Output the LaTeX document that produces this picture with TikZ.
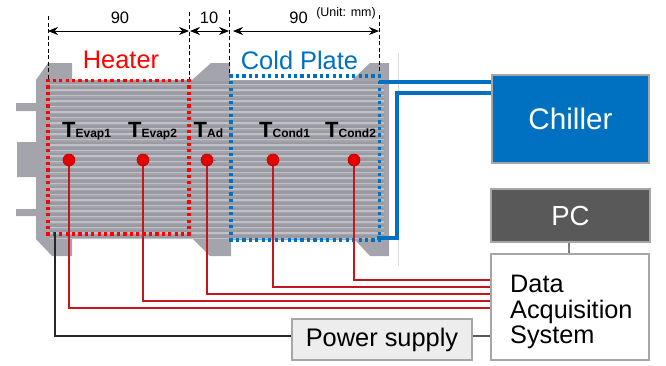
\documentclass[tikz,border=0pt]{standalone}
\usepackage{fontspec}
\setmainfont{Liberation Sans}
\usetikzlibrary{arrows.meta}
\definecolor{cblue}{HTML}{0070C0}
\definecolor{plategray}{HTML}{A4A4AC}
\definecolor{finlight}{HTML}{C0C0C6}
\definecolor{findark}{HTML}{9A9AA2}
\definecolor{wirered}{HTML}{C4161C}
\definecolor{pcgray}{HTML}{595959}
\definecolor{boxedge}{HTML}{A6A6A6}
\tikzset{
  x=1pt,y=-1pt,
  dim/.style={black,line width=0.9pt,{Stealth[length=10pt,width=8pt]}-{Stealth[length=10pt,width=8pt]}},
  guide/.style={black,line width=0.7pt,dash pattern=on 4pt off 2.5pt},
  wire/.style={wirered,line width=1.3pt},
  sensor/.style={circle,fill=red!90!black,draw=red!75!black,line width=0.6pt,minimum size=12pt,inner sep=0pt},
  tlabel/.style={anchor=base west,inner sep=0pt,font=\bfseries\fontsize{22}{22}\selectfont},
  zonedot/.style={rectangle,minimum size=3.2pt,inner sep=0pt,draw=none},
  pipe/.style={cblue,line width=4.6pt},
  bigtext/.style={font=\fontsize{25.4}{25}\selectfont,inner sep=0pt},
  dimtext/.style={font=\fontsize{16.5}{17}\selectfont,inner sep=0pt},
  box/.style={draw=boxedge,line width=1.2pt,inner sep=0pt},
}
\newcommand{\Tsub}[1]{T{\fontsize{12}{12}\selectfont #1}}
% dotted outline made of square dots: colour, x0, y0, x1, y1, nx, ny
\newcommand{\dotbox}[7]{%
  \foreach \i in {0,...,#6}{
    \fill[#1] ({#2+(#4-#2)*\i/#6-1.6},{#3-1.6}) rectangle ++(3.2,3.2);
    \fill[#1] ({#2+(#4-#2)*\i/#6-1.6},{#5-1.6}) rectangle ++(3.2,3.2);
  }
  \foreach \i in {0,...,#7}{
    \fill[#1] ({#2-1.6},{#3+(#5-#3)*\i/#7-1.6}) rectangle ++(3.2,3.2);
    \fill[#1] ({#4-1.6},{#3+(#5-#3)*\i/#7-1.6}) rectangle ++(3.2,3.2);
  }
}
\begin{document}
\begin{tikzpicture}
\useasboundingbox (0,0) rectangle (666,365);
% plate
\fill[plategray] (36,80) -- (48,63) -- (72,63) -- (72,80) -- (192,80) -- (211,63) -- (230,63) -- (230,80)
  -- (352,80) -- (370,63) -- (389,63) -- (389,256) -- (370,256) -- (355,240) -- (231,240) -- (231,256)
  -- (210,256) -- (193,239) -- (72,239) -- (72,256) -- (52,256) -- (36,239) -- (36,216) -- (16,216) -- (16,209)
  -- (36,209) -- (36,177) -- (17,177) -- (17,142) -- (36,142) -- (36,111) -- (16,111) -- (16,103) -- (36,103) -- cycle;
\foreach \k in {0,...,28}{
  \fill[findark] (50,{81+5.5*\k}) rectangle (384,{83.8+5.5*\k});
  \fill[finlight] (50,{83.8+5.5*\k}) rectangle (384,{85.2+5.5*\k});
}
\draw[gray!30,line width=0.8pt] (398,53) -- (398,266);
% dimension guides
\coordinate (g1t) at (48,16); \coordinate (g1b) at (48,80);
\coordinate (g2t) at (189,12); \coordinate (g2b) at (189,80);
\coordinate (g3t) at (229,10); \coordinate (g3b) at (229,76);
\coordinate (g4t) at (379,15); \coordinate (g4b) at (379,76);
\draw[guide] (g1t) -- (g1b);
\draw[guide] (g2t) -- (g2b);
\draw[guide] (g3t) -- (g3b);
\draw[guide] (g4t) -- (g4b);
\coordinate (a1) at (48,31); \coordinate (a2) at (189,31);
\coordinate (a3) at (190,31); \coordinate (a4) at (229,31);
\coordinate (a5) at (233,31); \coordinate (a6) at (379,31);
\draw[dim] (a1) -- (a2);
\draw[dim] (a3) -- (a4);
\draw[dim] (a5) -- (a6);
\node[dimtext] (d90a) at (120,17.5) {90};
\node[dimtext] (d10) at (209,17.5) {10};
\node[dimtext] (d90b) at (298.5,17.5) {90};
\node[inner sep=0pt,font=\fontsize{12.5}{13}\selectfont] (unit) at (346,13) {(Unit: mm)};
% zones
\dotbox{red}{48}{80.5}{189}{234}{22}{24}
\dotbox{cblue}{231}{76}{379.5}{240}{23}{25}
\node[bigtext,red] (heater) at (121,60) {Heater};
\node[bigtext,cblue] (cold) at (299.5,60) {Cold Plate};
% boxes
\node[box,fill=cblue,minimum width=157pt,minimum height=88pt,text=white,font=\fontsize{29.7}{30}\selectfont] (chiller) at (570.5,119) {Chiller};
\node[box,fill=pcgray,minimum width=159pt,minimum height=53pt,text=white,font=\fontsize{27.6}{28}\selectfont] (pc) at (570.5,215.5) {PC};
\node[box,fill=white,minimum width=158pt,minimum height=106pt] (daq) at (570,307) {};
\node[box,fill=gray!14,minimum width=180pt,minimum height=41pt,font=\fontsize{25.4}{25}\selectfont] (power) at (382,339.5) {Power supply};
\node[anchor=base west,inner sep=0pt,font=\fontsize{25.3}{25}\selectfont] (daqa) at (510,292.7) {Data};
\node[anchor=base west,inner sep=0pt,font=\fontsize{25.3}{25}\selectfont] (daqb) at (510,318) {Acquisition};
\node[anchor=base west,inner sep=0pt,font=\fontsize{25.3}{25}\selectfont] (daqc) at (510,343) {System};
% pipes
\coordinate (pipeA) at (379,82);
\coordinate (pipeB) at (377,238);
\coordinate (pipeC) at (397,93);
\draw[pipe] (pipeA) -- (pipeA -| chiller.west);
\draw[pipe,line join=miter] (pipeB) -- (397,238) -- (pipeC) -- (pipeC -| chiller.west);
% sensors
\node[sensor] (s1) at (69,160) {};
\node[sensor] (s2) at (143,160) {};
\node[sensor] (s3) at (207,160) {};
\node[sensor] (s4) at (273,160) {};
\node[sensor] (s5) at (354,160) {};
\draw[blue!60,line width=0.7pt] (s3.east) -- +(3,0);
\draw[wire] (s1) |- (daq.west |- 0,308);
\draw[wire] (s2) |- (daq.west |- 0,301);
\draw[wire] (s3) |- (daq.west |- 0,294);
\draw[wire] (s4) |- (daq.west |- 0,287);
\draw[wire] (s5) |- (daq.west |- 0,280);
\node[tlabel] (t1) at (62,137) {\Tsub{Evap1}};
\node[tlabel] (t2) at (128,137) {\Tsub{Evap2}};
\node[tlabel] (t3) at (193.5,137) {\Tsub{Ad}};
\node[tlabel] (t4) at (259,137) {\Tsub{Cond1}};
\node[tlabel] (t5) at (325,137) {\Tsub{Cond2}};
% other connectors
\coordinate (heat) at (55,232);
\draw[black!85,line width=1.1pt] (heat) |- (power.west |- 0,336);
\draw[black!65,line width=1.1pt] (power.east |- 0,336) -- (daq.west |- 0,336);
\draw[gray,line width=2pt] (pc.south -| 569,0) -- (daq.north -| 569,0);
\end{tikzpicture}
\end{document}
